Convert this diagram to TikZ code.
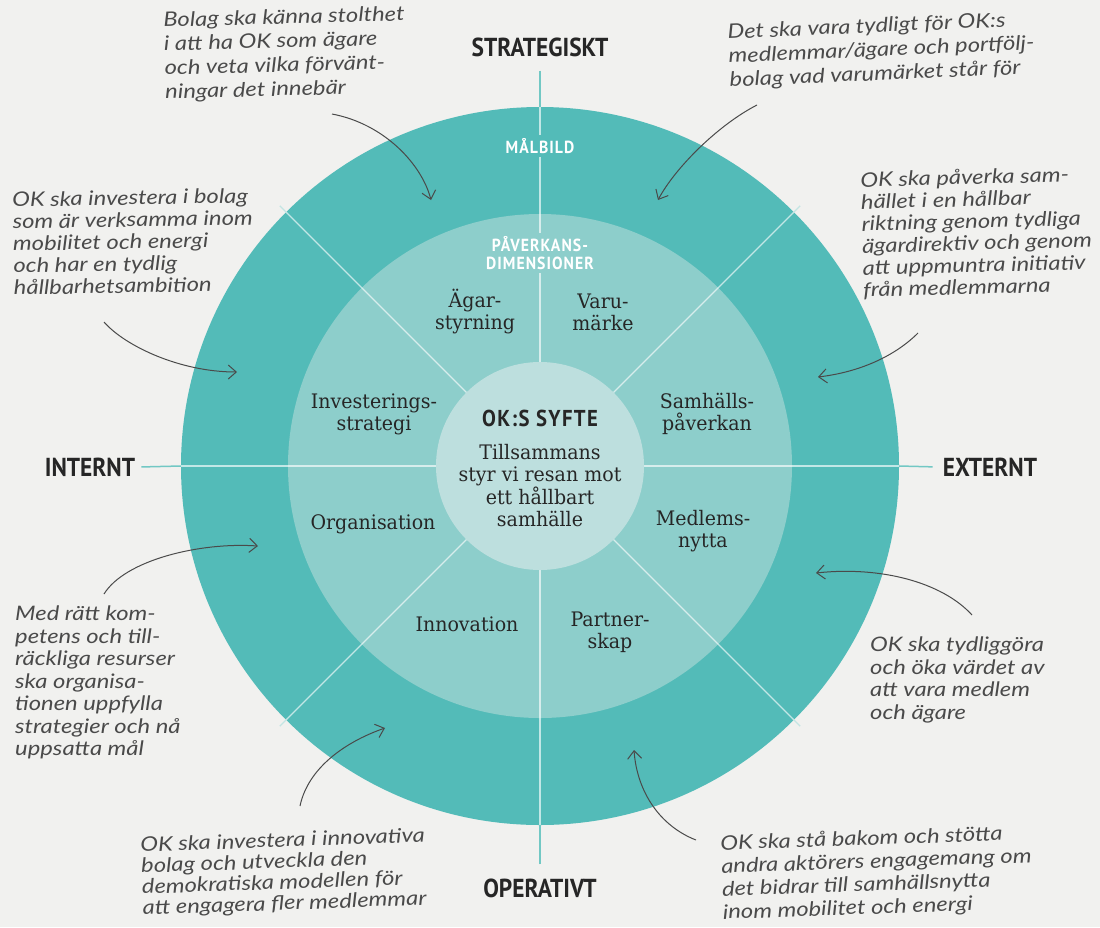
\documentclass[tikz,border=0pt]{standalone}
\usepackage{fontspec}
\usetikzlibrary{arrows.meta}
\newfontfamily\serifl[FakeStretch=0.95]{DejaVu Serif}
\newfontfamily\hand[FakeStretch=1.19]{Lato}
\newfontfamily\headf[FakeStretch=0.9]{PT Sans}
\newfontfamily\labf[FakeStretch=0.9,LetterSpace=6]{PT Sans}
\definecolor{bgc}{HTML}{F1F1EF}
\definecolor{ringA}{HTML}{53BBB8}
\definecolor{ringB}{HTML}{8DCECB}
\definecolor{ringC}{HTML}{BDDFDE}
\definecolor{extc}{HTML}{72C8C4}
\definecolor{diagc}{HTML}{C3E5E3}
\definecolor{inkc}{HTML}{4A4A4A}
\definecolor{textc}{HTML}{262626}
\begin{document}
\begin{tikzpicture}[x=1pt,y=-1pt,
  head/.style={font=\headf\bfseries\fontsize{26}{28}\selectfont, text=textc, inner sep=4pt},
  dimtext/.style={font=\serifl\fontsize{20}{22}\selectfont, text=textc, align=center, inner sep=0pt},
  ringlabel/.style={font=\labf\bfseries\fontsize{17.5}{20}\selectfont, text=white, align=center, inner sep=3pt},
  note/.style={text=inkc, align=left, anchor=north west, inner sep=0pt},
  arr/.style={-{Straight Barb[length=8pt,width=14pt]}, line width=1pt, draw=inkc},
  spoke/.style={draw=white, draw opacity=0.65, line width=1.2pt},
  extline/.style={draw=extc, line width=1.5pt},
  ringnode/.style={circle, inner sep=0pt, draw=none}
]
\useasboundingbox (0,0) rectangle (1100,927);
\fill[bgc] (0,0) rectangle (1100,927);
\coordinate (c) at (540,466);

% rings
\node[ringnode, fill=ringA, minimum size=718pt] (O) at (c) {};
\node[ringnode, fill=ringB, minimum size=504pt] (M) at (c) {};
\foreach \a in {0,45,...,315} \draw[spoke] (c) -- ++(\a:359);
\foreach \a in {45,135,225,315} \draw[draw=diagc, line width=1.2pt] (c) ++(\a:358) -- ++(\a:10);
\node[ringnode, fill=ringC, minimum size=208pt] (I) at (c) {};

% ring labels
\node[ringlabel, fill=ringA] (malbild) at (540,146) {MÅLBILD};
\node[ringlabel, fill=ringB] (paverk) at (540,253) {PÅVERKANS-\\[-2pt]DIMENSIONER};

% axis labels
\node[head] (strat) at (540,47) {STRATEGISKT};
\node[head] (intl) at (90,467) {INTERNT};
\node[head] (extl) at (990,467) {EXTERNT};
\node[head] (oper) at (540,888) {OPERATIVT};
\draw[extline, shorten <=10pt] (strat.south) -- (O.north);
\draw[extline, shorten <=2pt] (intl.east) -- (O.west);
\draw[extline, shorten <=6pt] (extl.west) -- (O.east);
\draw[extline, shorten <=10pt] (oper.north) -- (O.south);

% centre
\node[font=\labf\bfseries\fontsize{23}{25}\selectfont, text=textc] (syfte) at (540,418) {OK:S SYFTE};
\node[dimtext] (purpose) at (540,486) {Tillsammans\\styr vi resan mot\\ett hållbart\\samhälle};

% dimensions
\node[dimtext] (agar) at (475,312) {Ägar-\\styrning};
\node[dimtext] (varu) at (603,312) {Varu-\\märke};
\node[dimtext] (inv) at (374,414) {Investerings-\\strategi};
\node[dimtext] (samh) at (707,414) {Samhälls-\\påverkan};
\node[dimtext] (org) at (373,524) {Organisation};
\node[dimtext] (medl) at (703,531) {Medlems-\\nytta};
\node[dimtext] (innov) at (467,624) {Innovation};
\node[dimtext] (partn) at (610,632) {Partner-\\skap};

% notes
\node[note, rotate=1.5, font=\hand\itshape\fontsize{20}{24}\selectfont] (n1) at (163,12) {Bolag ska känna stolthet\\i att ha OK som ägare\\och veta vilka förvänt-\\ningar det innebär};
\node[note, rotate=2.5, font=\hand\itshape\fontsize{20}{24}\selectfont] (n2) at (727,24) {Det ska vara tydligt för OK:s\\medlemmar/ägare och portfölj-\\bolag vad varumärket står för};
\node[note, rotate=1, font=\hand\itshape\fontsize{20}{22}\selectfont] (n3) at (12,192) {OK ska investera i bolag\\som är verksamma inom\\mobilitet och energi\\och har en tydlig\\hållbarhetsambition};
\node[note, rotate=1.5, font=\hand\itshape\fontsize{20}{22}\selectfont] (n4) at (860,172) {OK ska påverka sam-\\hället i en hållbar\\riktning genom tydliga\\ägardirektiv och genom\\att uppmuntra initiativ\\från medlemmarna};
\node[note, font=\hand\itshape\fontsize{20}{22.5}\selectfont] (n5) at (15,606) {Med rätt kom-\\petens och till-\\räckliga resurser\\ska organisa-\\tionen uppfylla\\strategier och nå\\uppsatta mål};
\node[note, font=\hand\itshape\fontsize{20}{22.5}\selectfont] (n6) at (870,637) {OK ska tydliggöra\\och öka värdet av\\att vara medlem\\och ägare};
\node[note, rotate=2, font=\hand\itshape\fontsize{20}{21}\selectfont] (n7) at (140,837) {OK ska investera i innovativa\\bolag och utveckla den\\demokratiska modellen för\\att engagera fler medlemmar};
\node[note, rotate=2, font=\hand\itshape\fontsize{20}{23}\selectfont] (n8) at (720,835) {OK ska stå bakom och stötta\\andra aktörers engagemang om\\det bidrar till samhällsnytta\\inom mobilitet och energi};

% arrows
\coordinate (a1s) at (332,114); \coordinate (a1e) at (431,200);
\coordinate (a2s) at (757,105); \coordinate (a2e) at (658,200);
\coordinate (a3s) at (104,322); \coordinate (a3e) at (237,372);
\coordinate (a4s) at (918,333); \coordinate (a4e) at (818,377);
\coordinate (a5s) at (104,594); \coordinate (a5e) at (258,546);
\coordinate (a6s) at (972,615); \coordinate (a6e) at (816,573);
\coordinate (a7s) at (300,806); \coordinate (a7e) at (385,728);
\coordinate (a8s) at (696,840); \coordinate (a8e) at (634,750);
\draw[arr] (a1s) .. controls (385,124) and (422,165) .. (a1e);
\draw[arr] (a2s) .. controls (718,125) and (675,168) .. (a2e);
\draw[arr] (a3s) .. controls (125,346) and (180,372) .. (a3e);
\draw[arr] (a4s) .. controls (895,356) and (860,372) .. (a4e);
\draw[arr] (a5s) .. controls (125,560) and (200,542) .. (a5e);
\draw[arr] (a6s) .. controls (942,582) and (880,566) .. (a6e);
\draw[arr] (a7s) .. controls (308,768) and (345,742) .. (a7e);
\draw[arr] (a8s) .. controls (660,826) and (637,792) .. (a8e);
\end{tikzpicture}
\end{document}
